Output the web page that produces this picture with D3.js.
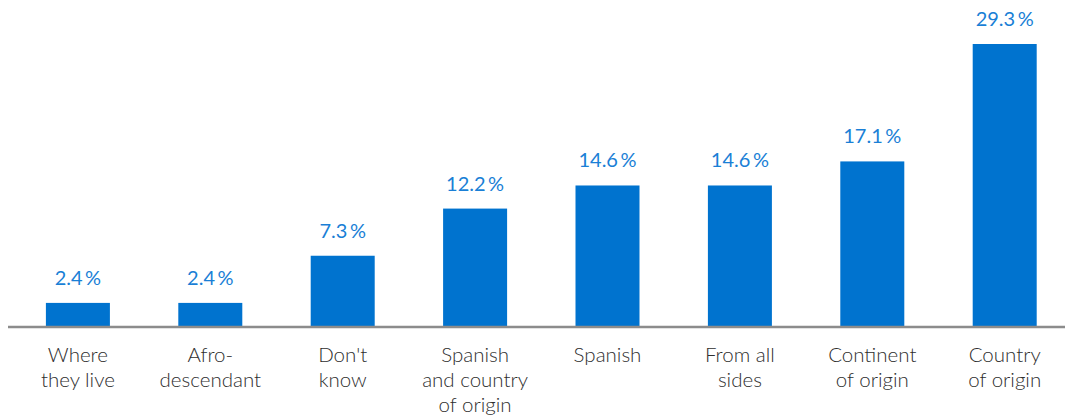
<!DOCTYPE html>
<html>
<head>
<meta charset="utf-8">
<script src="https://cdn.jsdelivr.net/npm/d3@7"></script>
<style>
  html, body { margin: 0; padding: 0; background: #fff; }
  svg { display: block; }
</style>
</head>
<body>
<svg id="chart" width="1065" height="418"></svg>
<script>
// Survey answers, sorted from smallest to largest share
const categories = [
  ["Where", "they live"],
  ["Afro-", "descendant"],
  ["Don't", "know"],
  ["Spanish", "and country", "of origin"],
  ["Spanish"],
  ["From all", "sides"],
  ["Continent", "of origin"],
  ["Country", "of origin"]
];
const values = [2.4, 2.4, 7.3, 12.2, 14.6, 14.6, 17.1, 29.3];

const W = 1065, H = 418;
const baseline = 326;
const svg = d3.select("#chart");

const keys = categories.map((c, i) => i);

const x = d3.scaleBand()
  .domain(keys)
  .range([12.8, 1069.8])
  .paddingInner(0.5166)
  .paddingOuter(0.25);

const y = d3.scaleLinear()
  .domain([0, 29.3])
  .range([baseline, 44]);

const fmt = v => d3.format(".1f")(v) + "\u2009%";

// Bars
svg.append("g")
  .selectAll("rect")
  .data(values)
  .join("rect")
  .attr("x", (d, i) => x(i))
  .attr("y", d => y(d))
  .attr("width", x.bandwidth())
  .attr("height", d => baseline - y(d))
  .attr("fill", "#0073cf");

// Value labels above bars
svg.append("g")
  .selectAll("text")
  .data(values)
  .join("text")
  .attr("x", (d, i) => x(i) + x.bandwidth() / 2)
  .attr("y", d => y(d) - 18)
  .attr("text-anchor", "middle")
  .attr("font-family", "Lato, 'Open Sans', sans-serif")
  .attr("font-weight", 400)
  .attr("font-size", 20)
  .attr("fill", "#1a7fd6")
  .text(d => fmt(d));

// Baseline axis
const axis = d3.axisBottom(x).tickSize(0).tickFormat("");
const axisG = svg.append("g")
  .attr("transform", `translate(0,${baseline + 1})`)
  .call(axis);
axisG.select(".domain")
  .attr("d", `M8,0H${W}`)
  .attr("stroke", "#8c8c8c")
  .attr("stroke-width", 2.5);

// Category labels (multi-line)
const labels = svg.append("g")
  .selectAll("text")
  .data(categories)
  .join("text")
  .attr("x", (d, i) => x(i) + x.bandwidth() / 2)
  .attr("y", 362)
  .attr("text-anchor", "middle")
  .attr("font-family", "Lato, 'Open Sans', sans-serif")
  .attr("font-weight", 300)
  .attr("font-size", 20.5)
  .attr("fill", "#2e2e2e");

labels.selectAll("tspan")
  .data((d, i) => d.map(line => ({ line, i })))
  .join("tspan")
  .attr("x", d => x(d.i) + x.bandwidth() / 2)
  .attr("dy", (d, j) => j === 0 ? 0 : 25)
  .text(d => d.line);
</script>
</body>
</html>
